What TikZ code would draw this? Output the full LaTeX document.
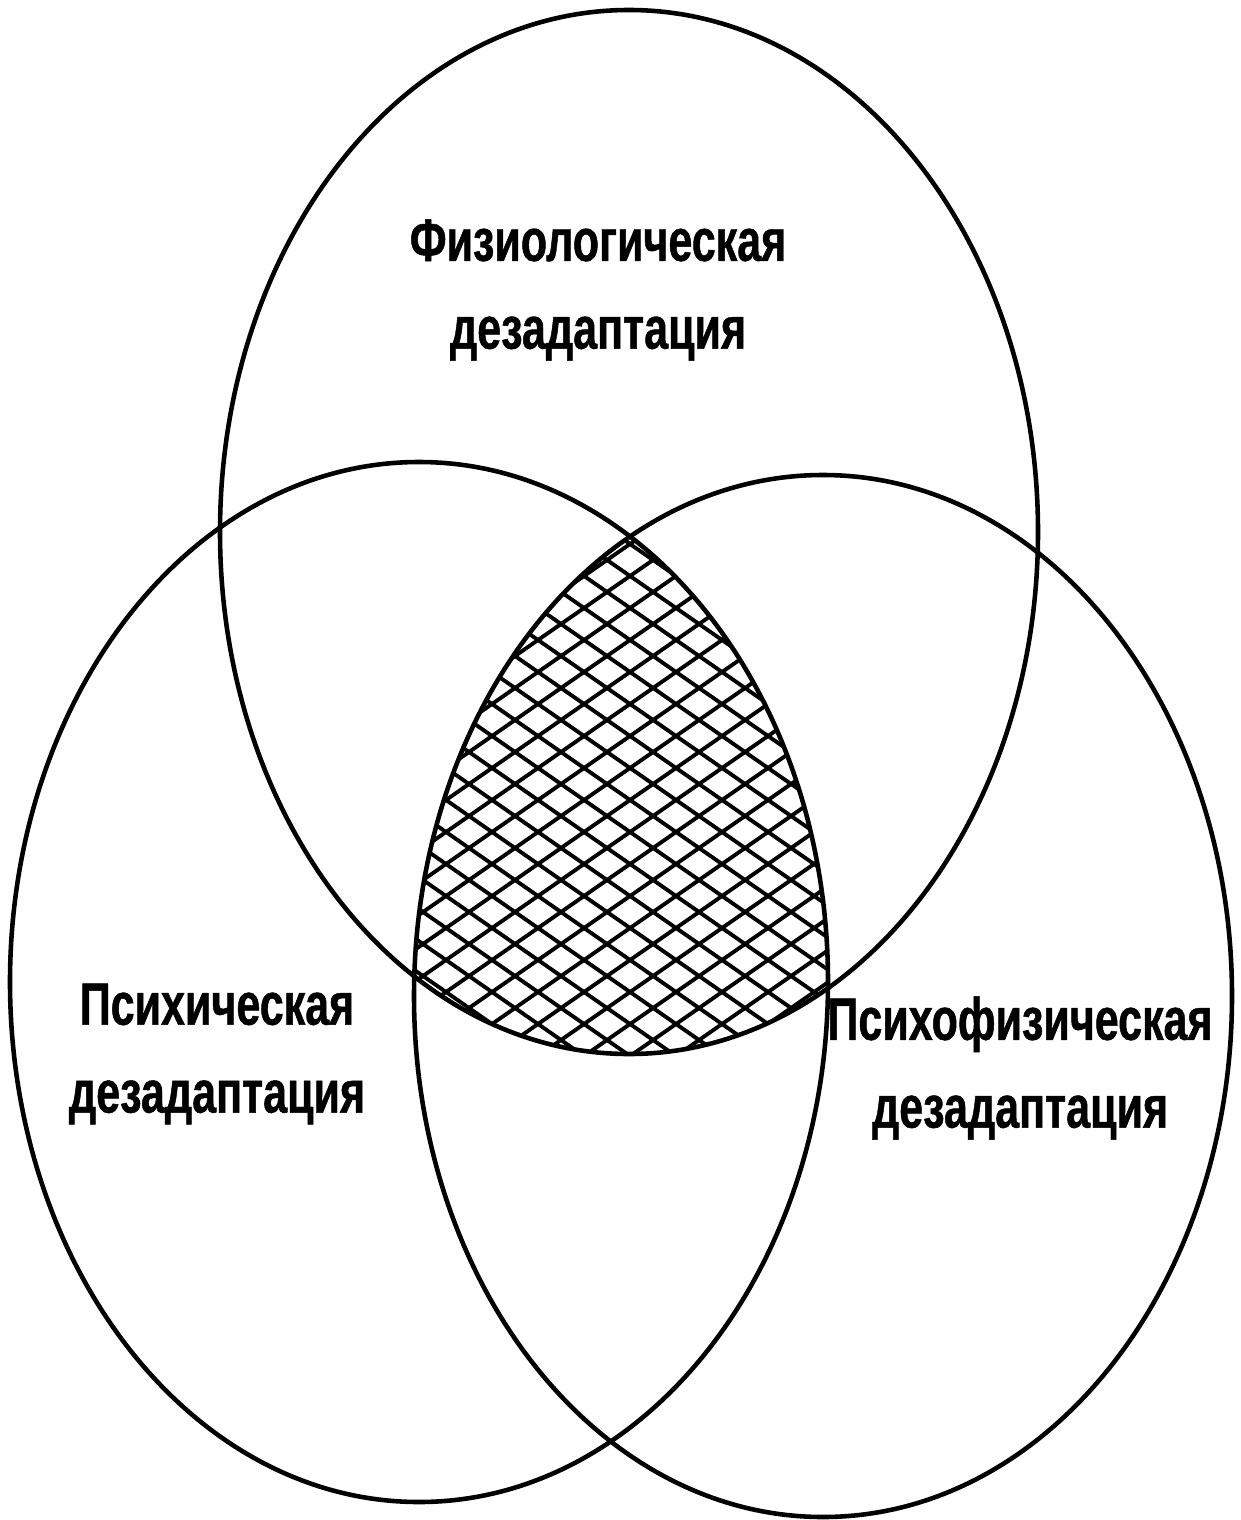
\documentclass[tikz,border=0pt]{standalone}
\usepackage{fontspec}
\usepackage{tikz}
\newfontfamily\lblfont{Liberation Sans}[FakeStretch=0.72, FakeBold=0.8]

\tikzset{
  venn/.style={line width=2.6pt},
  hatchline/.style={line width=2.2pt},
  lbl/.style={font=\lblfont\bfseries\fontsize{34}{50}\selectfont, align=center, inner sep=0pt}
}

\begin{document}
\begin{tikzpicture}[x=0.02cm, y=-0.02cm]
    \useasboundingbox (0,0) rectangle (1240,1520);
    \coordinate (phys) at (629,532);
    \coordinate (psych) at (419,982);
    \coordinate (psyphys) at (823,996);

    % crossed area
    \begin{scope}
      \clip (phys) ellipse [x radius=409, y radius=522];
      \clip (psych) ellipse [x radius=409, y radius=520];
      \clip (psyphys) ellipse [x radius=409, y radius=521];
      \foreach \k in {2,...,50} {
        \draw[hatchline] (400,\k*32) -- ++(450,313);
        \draw[hatchline] (400,\k*32) -- ++(450,-313);
      }
    \end{scope}

    \draw[venn] (phys) ellipse [x radius=409, y radius=522];
    \draw[venn] (psych) ellipse [x radius=409, y radius=520];
    \draw[venn] (psyphys) ellipse [x radius=409, y radius=521];

    \node[lbl] (physlbl) at (598,290) {Физиологическая\\дезадаптация};
    \node[lbl] (psychlbl) at (217,1054) {Психическая\\дезадаптация};
    \node[lbl] (psyphyslbl) at (1020,1068) {Психофизическая\\дезадаптация};
  \end{tikzpicture}
\end{document}
